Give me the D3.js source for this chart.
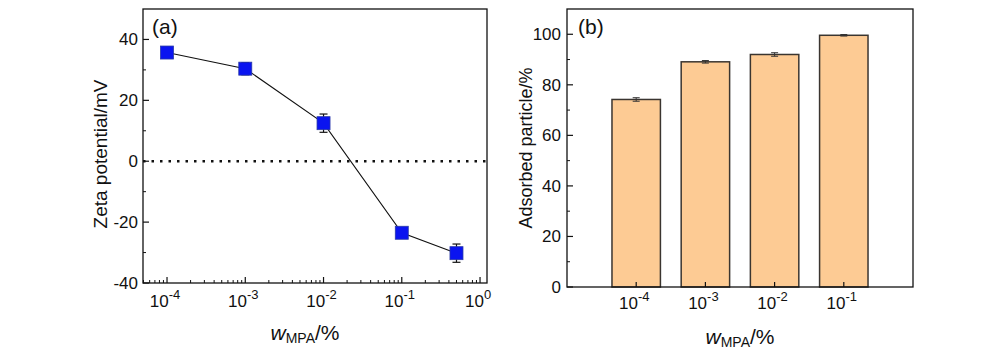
<!DOCTYPE html>
<html>
<head>
<meta charset="utf-8">
<script src="https://cdn.jsdelivr.net/npm/d3@7"></script>
<style>
  body { margin: 0; background: #fff; }
  text { font-family: "Liberation Sans", Arial, sans-serif; fill: #111; }
</style>
</head>
<body>
<script>
// panel (a) data
var zetaX = [1e-4, 1e-3, 1e-2, 1e-1, 0.5];
var zetaY = [35.7, 30.4, 12.5, -23.5, -30.2];
var zetaErr = [1.8, 2.0, 3.0, 1.6, 3.0];
var zetaTicks = [-40, -20, 0, 20, 40];
var logExps = [-4, -3, -2, -1, 0];

// panel (b) data
var barExps = [-4, -3, -2, -1];
var barVals = [74.2, 89.1, 92.0, 99.6];
var barErr = [0.7, 0.5, 0.7, 0.3];
var barTicks = [0, 20, 40, 60, 80, 100];

const W = 1000, H = 352;
const svg = d3.select("body").append("svg")
    .attr("width", W).attr("height", H);

// superscript label helper
function powLabel(sel, e) {
  sel.append("tspan").text("10");
  sel.append("tspan").attr("dy", -8).attr("font-size", 13).text(e);
}

function xTitle(g, cx, y) {
  const t = g.append("text").attr("x", cx).attr("y", y)
      .attr("text-anchor", "middle").attr("font-size", 21);
  t.append("tspan").attr("font-style", "italic").text("w");
  t.append("tspan").attr("font-size", 14).attr("dy", 3).text("MPA");
  t.append("tspan").attr("dy", -3).text("/%");
}

/********** panel (a) **********/
const a = { l: 143, r: 487, t: 9, b: 283 };
const xa = d3.scaleLog().domain([Math.pow(10, -4.307), Math.pow(10, 0.089)]).range([a.l, a.r]);
const ya = d3.scaleLinear().domain([-40, 50]).range([a.b, a.t]);
const ga = svg.append("g");

// minor ticks on log axis
var minorX = [];
for (var e = -5; e <= 0; e++) for (var k = 2; k <= 9; k++) {
  var v = k * Math.pow(10, e);
  if (v > xa.domain()[0] && v < xa.domain()[1]) minorX.push(v);
}
ga.selectAll(".mx").data(minorX).enter().append("line")
    .attr("x1", d => xa(d)).attr("x2", d => xa(d))
    .attr("y1", a.b).attr("y2", a.b - 3)
    .attr("stroke", "#111").attr("stroke-width", 1);
ga.selectAll(".Mx").data(logExps).enter().append("line")
    .attr("x1", d => xa(Math.pow(10, d))).attr("x2", d => xa(Math.pow(10, d)))
    .attr("y1", a.b).attr("y2", a.b - 6)
    .attr("stroke", "#111").attr("stroke-width", 1.2);
ga.selectAll(".xl").data(logExps).enter().append("text")
    .attr("x", d => xa(Math.pow(10, d)) - 2).attr("y", 307)
    .attr("text-anchor", "middle").attr("font-size", 17)
    .each(function(d) { powLabel(d3.select(this), d); });

// y ticks
ga.selectAll(".My").data(zetaTicks).enter().append("line")
    .attr("x1", a.l).attr("x2", a.l + 6)
    .attr("y1", d => ya(d)).attr("y2", d => ya(d))
    .attr("stroke", "#111").attr("stroke-width", 1.2);
ga.selectAll(".my").data([-30, -10, 10, 30]).enter().append("line")
    .attr("x1", a.l).attr("x2", a.l + 3)
    .attr("y1", d => ya(d)).attr("y2", d => ya(d))
    .attr("stroke", "#111").attr("stroke-width", 1);
ga.selectAll(".yl").data(zetaTicks).enter().append("text")
    .attr("x", a.l - 5).attr("y", d => ya(d) + 6)
    .attr("text-anchor", "end").attr("font-size", 17)
    .text(d => d);

// zero line
ga.append("line")
    .attr("x1", a.l).attr("x2", a.r)
    .attr("y1", ya(0)).attr("y2", ya(0))
    .attr("stroke", "#111").attr("stroke-width", 2.5)
    .attr("stroke-dasharray", "2.5,6");

// connecting line
const pts = zetaX.map((x, i) => [x, zetaY[i]]);
ga.append("path")
    .attr("d", d3.line().x(d => xa(d[0])).y(d => ya(d[1]))(pts))
    .attr("fill", "none").attr("stroke", "#111").attr("stroke-width", 1.1);

// error bars
const eb = ga.selectAll(".eb").data(pts).enter().append("g");
eb.append("line")
    .attr("x1", d => xa(d[0])).attr("x2", d => xa(d[0]))
    .attr("y1", (d, i) => ya(d[1] + zetaErr[i])).attr("y2", (d, i) => ya(d[1] - zetaErr[i]))
    .attr("stroke", "#111").attr("stroke-width", 1.2);
[1, -1].forEach(function(s) {
  eb.append("line")
      .attr("x1", d => xa(d[0]) - 4).attr("x2", d => xa(d[0]) + 4)
      .attr("y1", (d, i) => ya(d[1] + s * zetaErr[i])).attr("y2", (d, i) => ya(d[1] + s * zetaErr[i]))
      .attr("stroke", "#111").attr("stroke-width", 1.2);
});
// markers
ga.selectAll(".pt").data(pts).enter().append("rect")
    .attr("x", d => xa(d[0]) - 6.5).attr("y", d => ya(d[1]) - 6.5)
    .attr("width", 13).attr("height", 13)
    .attr("fill", "#0a14f0").attr("stroke", "#2a3aa8").attr("stroke-width", 0.8);

// frame
ga.append("rect").attr("x", a.l).attr("y", a.t)
    .attr("width", a.r - a.l).attr("height", a.b - a.t)
    .attr("fill", "none").attr("stroke", "#111").attr("stroke-width", 1.3);

ga.append("text").attr("x", 152).attr("y", 34).attr("font-size", 21).text("(a)");
ga.append("text")
    .attr("transform", "translate(107," + ((a.t + a.b) / 2 + 8) + ") rotate(-90)")
    .attr("text-anchor", "middle").attr("font-size", 19)
    .text("Zeta potential/mV");
xTitle(ga, (a.l + a.r) / 2 - 10, 340);

/********** panel (b) **********/
const b = { l: 567, r: 913, t: 9, b: 287 };
const xb = d3.scaleLinear().domain([0, barExps.length + 1]).range([b.l, b.r]);
const yb = d3.scaleLinear().domain([0, 110]).range([b.b, b.t]);
const gb = svg.append("g");
const bw = (xb(1) - xb(0)) * 0.7;

gb.selectAll(".bar").data(barVals).enter().append("rect")
    .attr("x", (d, i) => xb(i + 1) - bw / 2).attr("y", d => yb(d))
    .attr("width", bw).attr("height", d => yb(0) - yb(d))
    .attr("fill", "#fdcb94").attr("stroke", "#3a3530").attr("stroke-width", 1.5);

const eb2 = gb.selectAll(".eb2").data(barVals).enter().append("g");
eb2.append("line")
    .attr("x1", (d, i) => xb(i + 1)).attr("x2", (d, i) => xb(i + 1))
    .attr("y1", (d, i) => yb(d + barErr[i])).attr("y2", (d, i) => yb(d - barErr[i]))
    .attr("stroke", "#333").attr("stroke-width", 1);
[1, -1].forEach(function(s) {
  eb2.append("line")
      .attr("x1", (d, i) => xb(i + 1) - 3.5).attr("x2", (d, i) => xb(i + 1) + 3.5)
      .attr("y1", (d, i) => yb(d + s * barErr[i])).attr("y2", (d, i) => yb(d + s * barErr[i]))
      .attr("stroke", "#333").attr("stroke-width", 1);
});

// x ticks
gb.selectAll(".bx").data(barExps).enter().append("line")
    .attr("x1", (d, i) => xb(i + 1)).attr("x2", (d, i) => xb(i + 1))
    .attr("y1", b.b).attr("y2", b.b - 5)
    .attr("stroke", "#111").attr("stroke-width", 1.2);
gb.selectAll(".bxl").data(barExps).enter().append("text")
    .attr("x", (d, i) => xb(i + 1) - 2).attr("y", 309)
    .attr("text-anchor", "middle").attr("font-size", 17)
    .each(function(d) { powLabel(d3.select(this), d); });

// y ticks
gb.selectAll(".by").data(barTicks).enter().append("line")
    .attr("x1", b.l).attr("x2", b.l + 6)
    .attr("y1", d => yb(d)).attr("y2", d => yb(d))
    .attr("stroke", "#111").attr("stroke-width", 1.2);
gb.selectAll(".bmy").data([10, 30, 50, 70, 90]).enter().append("line")
    .attr("x1", b.l).attr("x2", b.l + 3)
    .attr("y1", d => yb(d)).attr("y2", d => yb(d))
    .attr("stroke", "#111").attr("stroke-width", 1);
gb.selectAll(".byl").data(barTicks).enter().append("text")
    .attr("x", b.l - 6).attr("y", d => yb(d) + 6)
    .attr("text-anchor", "end").attr("font-size", 17)
    .text(d => d);

gb.append("rect").attr("x", b.l).attr("y", b.t)
    .attr("width", b.r - b.l).attr("height", b.b - b.t)
    .attr("fill", "none").attr("stroke", "#111").attr("stroke-width", 1.3);

gb.append("text").attr("x", 578).attr("y", 34).attr("font-size", 21).text("(b)");
gb.append("text")
    .attr("transform", "translate(532," + ((b.t + b.b) / 2) + ") rotate(-90)")
    .attr("text-anchor", "middle").attr("font-size", 18)
    .text("Adsorbed particle/%");
xTitle(gb, (b.l + b.r) / 2, 344);
</script>
</body>
</html>
